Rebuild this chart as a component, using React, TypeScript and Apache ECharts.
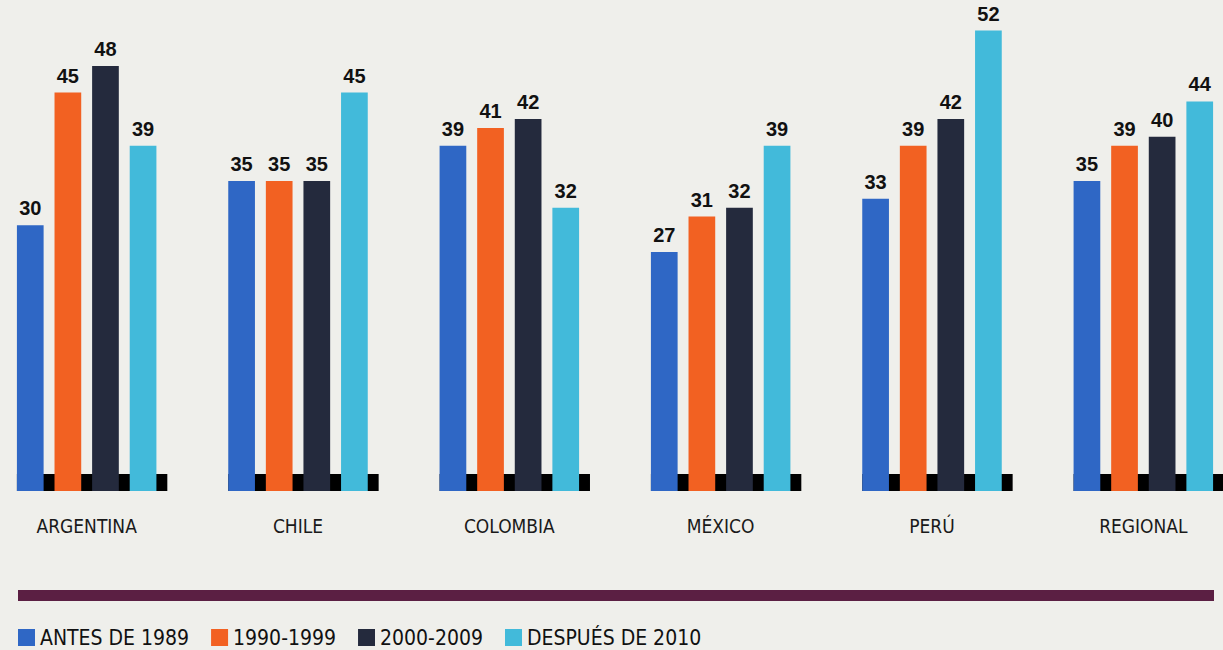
import React, { useEffect, useRef } from "react";
import * as echarts from "echarts";

const categories = ["ARGENTINA", "CHILE", "COLOMBIA", "MÉXICO", "PERÚ", "REGIONAL"];
const seriesNames = ["ANTES DE 1989", "1990-1999", "2000-2009", "DESPUÉS DE 2010"];
const antes1989 = [30, 35, 39, 27, 33, 35];
const d1990 = [45, 35, 41, 31, 39, 39];
const d2000 = [48, 35, 42, 32, 42, 40];
const despues2010 = [39, 45, 32, 39, 52, 44];
const seriesColors = ["#2f67c5", "#f26122", "#242a3d", "#42bada"];

const BAR_W = 26.7;
const BAR_GAP = 10.9;
const BASE_H = 17;
const OFFSET_X = 19; // chart canvas starts left of the page edge
const CANVAS_W = 1268;
const CONDENSED = '"Liberation Sans Narrow", "DejaVu Sans Condensed", "Roboto", sans-serif';

export default function App() {
  const ref = useRef<HTMLDivElement>(null);
  useEffect(() => {
    if (!ref.current) return;
    const chart = echarts.init(ref.current, undefined, { renderer: "svg" });
    const values = [antes1989, d1990, d2000, despues2010];
    const groupW = 4 * BAR_W + 3 * BAR_GAP;
    const barSeries = values.map((arr, i) => ({
      name: seriesNames[i],
      type: "bar",
      data: arr,
      barWidth: BAR_W,
      barGap: (BAR_GAP / BAR_W) * 100 + "%",
      itemStyle: { color: seriesColors[i] },
      z: 3,
      label: {
        show: true,
        position: "top",
        distance: 7,
        color: "#111111",
        fontFamily: '"Liberation Sans", Arial, sans-serif',
        fontWeight: "bold",
        fontSize: 20,
      },
    }));
    chart.setOption({
      animation: false,
      backgroundColor: "#efefeb",
      grid: { left: 0, right: 0, top: 4, bottom: 159, containLabel: false },
      xAxis: {
        type: "category",
        data: categories,
        axisLine: { show: false },
        axisTick: { show: false },
        axisLabel: {
          margin: 25,
          color: "#1a1a1a",
          fontSize: 19,
          fontFamily: CONDENSED,
        },
      },
      yAxis: { type: "value", min: 0, max: 55, show: false, splitLine: { show: false } },
      legend: {
        data: seriesNames,
        left: 18 + OFFSET_X,
        top: 627,
        padding: 0,
        itemWidth: 17,
        itemHeight: 17,
        itemGap: 22,
        icon: "rect",
        textStyle: { fontSize: 21, color: "#111111", fontFamily: CONDENSED },
      },
      graphic: [
        {
          type: "rect",
          shape: { x: 18 + OFFSET_X, y: 590, width: 1196, height: 11 },
          style: { fill: "#5b1f43" },
        },
      ],
      series: [
        {
          type: "custom",
          name: "base",
          z: 1,
          silent: true,
          data: categories.map((_, i) => [i, 0]),
          encode: { x: 0, y: 1 },
          renderItem: (params: any, api: any) => {
            const p = api.coord([api.value(0), 0]);
            return {
              type: "rect",
              shape: { x: p[0] - groupW / 2, y: p[1] - BASE_H, width: groupW + BAR_GAP, height: BASE_H },
              style: { fill: "#000000" },
            };
          },
        },
        ...barSeries,
      ],
    });
    return () => chart.dispose();
  }, []);
  return (
    <div style={{ position: "fixed", left: 0, top: 0, width: 1223, height: 650, overflow: "hidden" }}>
      <div ref={ref} style={{ position: "absolute", left: -OFFSET_X, top: 0, width: CANVAS_W, height: 650 }} />
    </div>
  );
}
